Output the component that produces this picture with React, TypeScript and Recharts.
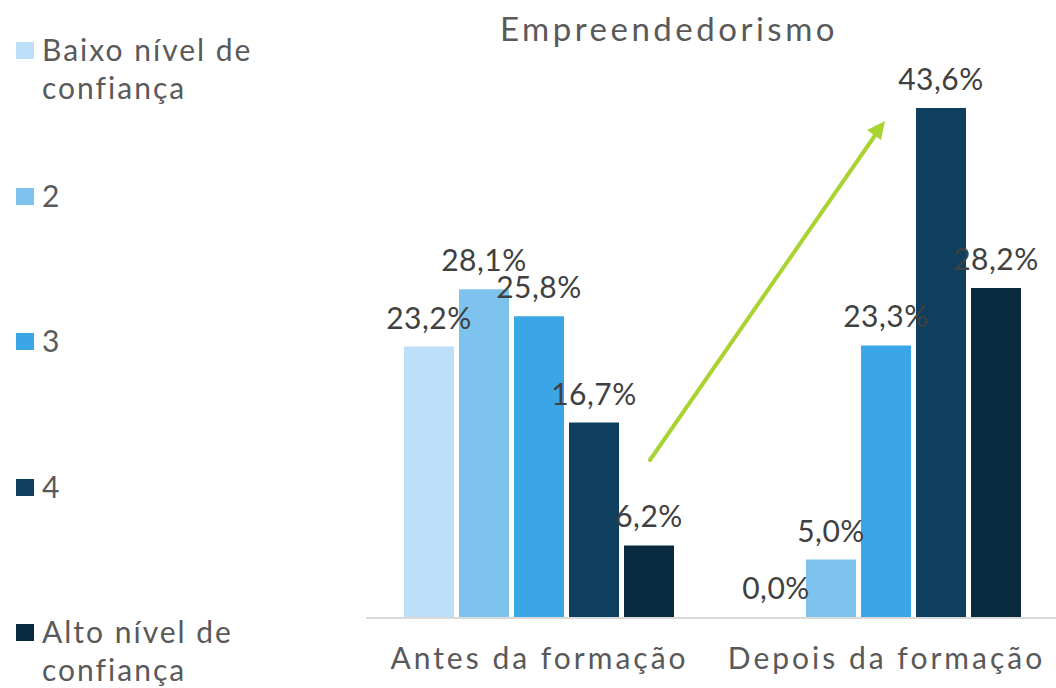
import { BarChart, Bar, XAxis, YAxis, LabelList } from 'recharts';

const categories = ['Antes da formação', 'Depois da formação'];
const seriesNames = ['Baixo nível de confiança', '2', '3', '4', 'Alto nível de confiança'];
const seriesColors = ['#BDDFF7', '#7DC3EE', '#3BA6E6', '#0E3F5F', '#0A2A40'];
const baixo = [23.2, 0.0];
const nivel2 = [28.1, 5.0];
const nivel3 = [25.8, 23.3];
const nivel4 = [16.7, 43.6];
const alto = [6.2, 28.2];

const series = [baixo, nivel2, nivel3, nivel4, alto];
const data = categories.map((cat, i) => {
  const row: Record<string, string | number> = { cat };
  series.forEach((s, k) => { row['s' + k] = s[i]; });
  return row;
});

const font = 'Lato, "Open Sans", sans-serif';
const fmt = (v: any) => Number(v).toFixed(1).replace('.', ',') + '%';

export default function App() {
  return (
    <div style={{ position: 'absolute', left: 0, top: 0, width: 1056, height: 688, overflow: 'hidden', background: '#fff', fontFamily: font }}>
      <div style={{ position: 'absolute', left: 0, top: 8, width: 1338, textAlign: 'center', fontSize: 33, letterSpacing: 3.5, color: '#595959' }}>
        Empreendedorismo
      </div>
      <BarChart width={1062} height={688} data={data} margin={{ top: 33, right: 2, bottom: 0, left: 366 }}
        barCategoryGap={38} barGap={5}>
        <XAxis dataKey="cat" height={70} tickLine={false} tickSize={0} tickMargin={30}
          axisLine={{ stroke: '#D9D9D9', strokeWidth: 2 }}
          tick={{ fill: '#595959', fontSize: 30, fontFamily: font, letterSpacing: 3 }} />
        <YAxis hide domain={[0, 50]} />
        {seriesNames.map((name, k) => (
          <Bar key={name} dataKey={'s' + k} name={name} fill={seriesColors[k]} minPointSize={1} isAnimationActive={false}>
            <LabelList dataKey={'s' + k} position="top" offset={18} formatter={fmt}
              style={{ fill: '#404040', fontSize: 30, fontFamily: font, letterSpacing: 0.5 }} />
          </Bar>
        ))}
      </BarChart>
      <svg width={1056} height={688} style={{ position: 'absolute', left: 0, top: 0, pointerEvents: 'none' }}>
        <line x1={650} y1={460} x2={876} y2={134} stroke="#A8D432" strokeWidth={4} strokeLinecap="round" />
        <polygon points="885,121 867,130 881,140" fill="#A8D432" />
      </svg>
      <div style={{ position: 'absolute', left: 0, top: 0 }}>
        {seriesNames.map((name, k) => (
          <div key={name} style={{ position: 'absolute', left: 16, top: 42 + k * 145.5, width: 280 }}>
            <div style={{ position: 'absolute', left: 0, top: 0, width: 18, height: 17, background: seriesColors[k] }} />
            <div style={{ position: 'absolute', left: 26, top: -12, width: 240, fontSize: 30, lineHeight: '38px', letterSpacing: 2, color: '#595959' }}>
              {name}
            </div>
          </div>
        ))}
      </div>
    </div>
  );
}
